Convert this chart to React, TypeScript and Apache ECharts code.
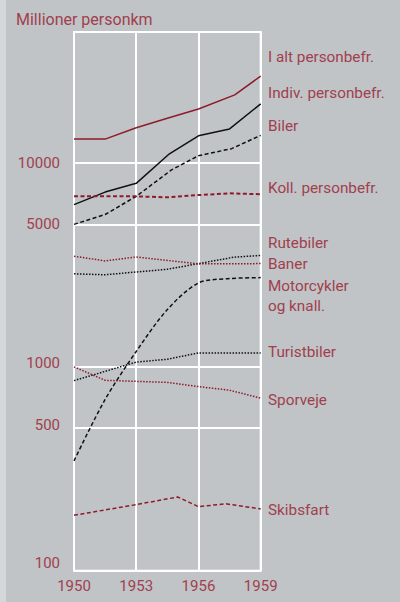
import React, { useEffect, useRef } from "react";
import * as echarts from "echarts";

const MAROON = "#8e1b2c";
const BLACK = "#111111";
const TEXT = "#a0404e";

const yTickValues = [100, 500, 1000, 5000, 10000];
const xTickYears = [1950, 1953, 1956, 1959];

// [year, million person-km]
const iAlt = [[1950, 13100], [1951.5, 13100], [1953, 14900], [1954.5, 16570], [1956, 18400], [1957.75, 21600], [1959, 26700]];
const indiv = [[1950, 6250], [1951.5, 7200], [1953, 7950], [1954.6, 11100], [1956, 13600], [1957.5, 14700], [1959, 19500]];
const biler = [[1950, 5000], [1951.5, 5590], [1953, 6860], [1954.7, 9250], [1956, 10860], [1957.6, 11760], [1959, 13670]];
const koll = [[1950, 6860], [1951.5, 6860], [1953, 6860], [1954.5, 6790], [1956, 6960], [1957.5, 7100], [1959, 7030]];
const rutebiler = [[1950, 2860], [1951.5, 2830], [1953, 2920], [1954.5, 3010], [1956, 3210], [1957.7, 3450], [1959, 3520]];
const baner = [[1950, 3490], [1951.5, 3310], [1953, 3460], [1956, 3200], [1959, 3210]];
const motorcykler = [[1950, 346], [1951.5, 692], [1953, 1190], [1954.5, 1910], [1956, 2580], [1957.5, 2710], [1959, 2740]];
const turistbiler = [[1950, 856], [1953, 1055], [1954.5, 1090], [1956, 1170], [1959, 1170]];
const sporveje = [[1950, 1000], [1951.5, 859], [1954.5, 839], [1956, 800], [1957.5, 768], [1959, 702]];
const skibsfart = [[1950, 187], [1953, 211], [1955, 230], [1956, 206], [1957.3, 213], [1959, 201]];

const seriesLabels = [
  { text: "I alt personbefr.", y: 57 },
  { text: "Indiv. personbefr.", y: 93 },
  { text: "Biler", y: 126 },
  { text: "Koll. personbefr.", y: 188 },
  { text: "Rutebiler", y: 243 },
  { text: "Baner", y: 264 },
  { text: "Motorcykler", y: 286 },
  { text: "og knall.", y: 306 },
  { text: "Turistbiler", y: 352 },
  { text: "Sporveje", y: 400 },
  { text: "Skibsfart", y: 510 },
];

const FONT = "Roboto, 'Noto Sans', sans-serif";

function line(name: string, data: number[][], color: string, type: any, width = 1.5, smooth: any = false) {
  return {
    name,
    type: "line",
    data,
    smooth,
    symbol: "none",
    lineStyle: { color, width, type },
    z: 3,
  };
}

export default function App() {
  const ref = useRef<HTMLDivElement>(null);
  useEffect(() => {
    document.body.style.margin = "0";
    const chart = echarts.init(ref.current!, null, { renderer: "svg" });
    const dotted = [1.5, 1.5];
    const dashed = [4, 2.5];
    chart.setOption({
      animation: false,
      backgroundColor: "#c1c4c7",
      grid: {
        left: 74,
        right: 139.3,
        top: 32,
        bottom: 31.3,
        show: true,
        borderColor: "#ffffff",
        borderWidth: 2,
        backgroundColor: "transparent",
      },
      xAxis: {
        type: "value",
        min: 1950,
        max: 1959,
        interval: 3,
        axisLine: { show: false },
        axisTick: { show: false },
        axisLabel: {
          color: TEXT,
          fontFamily: FONT,
          fontSize: 15,
          margin: 8,
          formatter: (v: number) => (xTickYears.includes(v) ? String(v) : ""),
        },
        splitLine: { show: true, lineStyle: { color: "#ffffff", width: 2 } },
      },
      yAxis: {
        type: "log",
        logBase: 10,
        min: 100,
        max: 43920,
        axisLine: { show: false },
        axisTick: { show: false, customValues: yTickValues },
        axisLabel: {
          color: TEXT,
          fontFamily: FONT,
          fontSize: 15,
          margin: 14,
          customValues: yTickValues,
          formatter: (v: number) => {
            const r = Math.round(v);
            if (r === 100) return `{low|${r}}`;
            if (r === 500 || r === 1000) return `{mid|${r}}`;
            return String(r);
          },
          rich: {
            low: { color: TEXT, fontFamily: FONT, fontSize: 15, padding: [0, 0, 15, 0] },
            mid: { color: TEXT, fontFamily: FONT, fontSize: 15, padding: [0, 0, 7, 0] },
          },
        },
        splitLine: { show: true, lineStyle: { color: "#ffffff", width: 2 } },
      },
      graphic: [
        { type: "rect", shape: { x: 0, y: 0, width: 6, height: 602 }, style: { fill: "#d4d8da" }, z: -1 },
        {
          type: "text",
          x: 16,
          y: 19,
          style: { text: "Millioner personkm", fill: TEXT, font: `16px ${FONT}`, textVerticalAlign: "middle" },
        },
        ...seriesLabels.map((l) => ({
          type: "text",
          x: 268,
          y: l.y,
          style: { text: l.text, fill: TEXT, font: `15.3px ${FONT}`, textVerticalAlign: "middle" },
        })),
      ],
      series: [
        line("I alt personbefr.", iAlt, MAROON, "solid"),
        line("Indiv. personbefr.", indiv, BLACK, "solid"),
        line("Biler", biler, BLACK, dashed),
        line("Koll. personbefr.", koll, MAROON, dashed, 2),
        line("Rutebiler", rutebiler, BLACK, dotted),
        line("Baner", baner, MAROON, dotted),
        line("Motorcykler og knall.", motorcykler, BLACK, dashed, 1.5, 0.3),
        line("Turistbiler", turistbiler, BLACK, dotted),
        line("Sporveje", sporveje, MAROON, dotted),
        line("Skibsfart", skibsfart, MAROON, dashed),
      ],
    });
    return () => chart.dispose();
  }, []);
  return <div ref={ref} style={{ width: 400, height: 602, position: "absolute", left: 0, top: 0 }} />;
}
